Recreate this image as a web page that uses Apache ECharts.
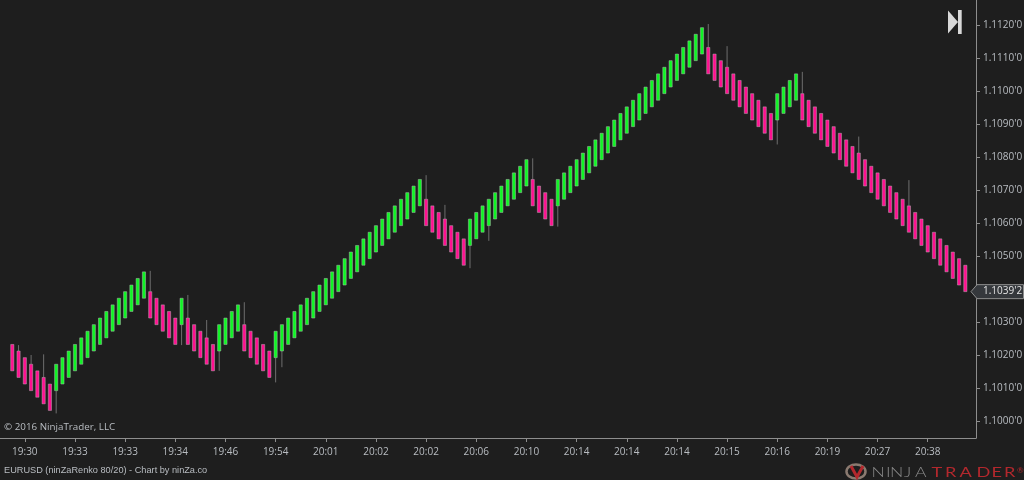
<!DOCTYPE html>
<html><head><meta charset="utf-8">
<style>html,body{margin:0;padding:0;background:#1e1e1e}#c{width:1024px;height:480px}</style>
<script src="https://cdn.jsdelivr.net/npm/echarts@6/dist/echarts.min.js"></script>
</head><body><div id="c"></div>
<script>
const opens = [
1.10232,1.10212,1.10192,1.10172,1.10152,1.10132,1.10112,
1.10092,1.10112,1.10132,1.10152,1.10172,1.10192,1.10212,1.10232,1.10252,1.10272,1.10292,1.10312,1.10332,1.10352,1.10372,
1.10392,1.10372,1.10352,1.10332,1.10312,
1.10292,
1.10312,1.10292,1.10272,1.10252,1.10232,
1.10212,1.10232,1.10252,1.10272,
1.10292,1.10272,1.10252,1.10232,1.10212,
1.10192,1.10212,1.10232,1.10252,1.10272,1.10292,1.10312,1.10332,1.10352,1.10372,1.10392,1.10412,1.10432,1.10452,1.10472,1.10492,1.10512,1.10532,1.10552,1.10572,1.10592,1.10612,1.10632,1.10652,
1.10672,1.10652,1.10632,1.10612,1.10592,1.10572,1.10552,
1.10532,1.10552,1.10572,1.10592,1.10612,1.10632,1.10652,1.10672,1.10692,1.10712,
1.10732,1.10712,1.10692,1.10672,
1.10652,1.10672,1.10692,1.10712,1.10732,1.10752,1.10772,1.10792,1.10812,1.10832,1.10852,1.10872,1.10892,1.10912,1.10932,1.10952,1.10972,1.10992,1.11012,1.11032,1.11052,1.11072,1.11092,1.11112,
1.11132,1.11112,1.11092,1.11072,1.11052,1.11032,1.11012,1.10992,1.10972,1.10952,1.10932,
1.10912,1.10932,1.10952,1.10972,
1.10992,1.10972,1.10952,1.10932,1.10912,1.10892,1.10872,1.10852,1.10832,1.10812,1.10792,1.10772,1.10752,1.10732,1.10712,1.10692,1.10672,1.10652,1.10632,1.10612,1.10592,1.10572,1.10552,1.10532,1.10512,1.10492,1.10472
];
const closes = [
1.10152,1.10132,1.10112,1.10092,1.10072,1.10052,1.10032,
1.10172,1.10192,1.10212,1.10232,1.10252,1.10272,1.10292,1.10312,1.10332,1.10352,1.10372,1.10392,1.10412,1.10432,1.10452,
1.10312,1.10292,1.10272,1.10252,1.10232,
1.10372,
1.10232,1.10212,1.10192,1.10172,1.10152,
1.10292,1.10312,1.10332,1.10352,
1.10212,1.10192,1.10172,1.10152,1.10132,
1.10272,1.10292,1.10312,1.10332,1.10352,1.10372,1.10392,1.10412,1.10432,1.10452,1.10472,1.10492,1.10512,1.10532,1.10552,1.10572,1.10592,1.10612,1.10632,1.10652,1.10672,1.10692,1.10712,1.10732,
1.10592,1.10572,1.10552,1.10532,1.10512,1.10492,1.10472,
1.10612,1.10632,1.10652,1.10672,1.10692,1.10712,1.10732,1.10752,1.10772,1.10792,
1.10652,1.10632,1.10612,1.10592,
1.10732,1.10752,1.10772,1.10792,1.10812,1.10832,1.10852,1.10872,1.10892,1.10912,1.10932,1.10952,1.10972,1.10992,1.11012,1.11032,1.11052,1.11072,1.11092,1.11112,1.11132,1.11152,1.11172,1.11192,
1.11052,1.11032,1.11012,1.10992,1.10972,1.10952,1.10932,1.10912,1.10892,1.10872,1.10852,
1.10992,1.11012,1.11032,1.11052,
1.10912,1.10892,1.10872,1.10852,1.10832,1.10812,1.10792,1.10772,1.10752,1.10732,1.10712,1.10692,1.10672,1.10652,1.10632,1.10612,1.10592,1.10572,1.10552,1.10532,1.10512,1.10492,1.10472,1.10452,1.10432,1.10412,1.10392
];
const upperWicks = [[1,1.10230],[3,1.10200],[5,1.10202],[22,1.10455],[28,1.10382],[31,1.10306],[37,1.10360],[66,1.10745],[69,1.10655],[83,1.10796],[111,1.11203],[114,1.11136],[126,1.11058],[135,1.10862],[143,1.10730]];
const lowerWicks = [[7,1.10023],[27,1.10230],[33,1.10152],[42,1.10117],[43,1.10163],[73,1.10463],[76,1.10546],[87,1.10589],[122,1.10838]];
const timeTicks = [2,10,18,26,34,42,50,58,66,74,82,90,98,106,114,122,130,138,146];
const timeLabels = ['19:30','19:33','19:33','19:34','19:46','19:54','20:01','20:02','20:02','20:06','20:10','20:14','20:14','20:14','20:15','20:16','20:19','20:27','20:38'];
const priceTicks = [1.100,1.101,1.102,1.103,1.105,1.106,1.107,1.108,1.109,1.110,1.111,1.112];
const priceLabels = ["1.1000'0","1.1010'0","1.1020'0","1.1030'0","1.1050'0","1.1060'0","1.1070'0","1.1080'0","1.1090'0","1.1100'0","1.1110'0","1.1120'0"];
const lastPrice = 1.10392;
const lastPriceLabel = "1.1039'2";

const FONT = '"Open Sans",sans-serif';
const BG = '#1e1e1e', AXIS = '#8e8e8e', TXT = '#b9bdc2';
const UP = '#0ff524', DOWN = '#ff1090', EDGE = 'rgba(190,190,190,0.75)', WICK = '#6e6e6e';
const hi = {}, lo = {};
upperWicks.forEach(w => hi[w[0]] = w[1]);
lowerWicks.forEach(w => lo[w[0]] = w[1]);
const candles = opens.map((o, i) => {
  const c = closes[i];
  return [i, o, c, lo[i] !== undefined ? lo[i] : Math.min(o, c), hi[i] !== undefined ? hi[i] : Math.max(o, c)];
});

const logoLetters = 'NINJA'.split('').map((ch, i) => ({
  type: 'text', x: [871.5, 886, 890, 904, 915][i], y: 466.5, scaleX: 1.35, silent: true,
  style: { text: ch, fill: '#8a8a8a', font: '300 13px Lato,sans-serif' }
})).concat('TRADER'.split('').map((ch, i) => ({
  type: 'text', x: [931.5, 945, 959.5, 976.5, 991.5, 1004][i], y: 466.5, scaleX: 1.4, silent: true,
  style: { text: ch, fill: '#b3282d', font: '400 13px Lato,sans-serif' }
}))).concat([{ type: 'text', x: 1017, y: 466, silent: true, style: { text: '®', fill: '#b3282d', font: '8px Lato,sans-serif' } }]);

const chart = echarts.init(document.getElementById('c'));
chart.setOption({
  backgroundColor: BG,
  animation: false,
  grid: { left: 0, right: 48, top: 0, bottom: 42, containLabel: false, outerBoundsMode: 'none' },
  xAxis: {
    type: 'value', min: -1.96, max: 153.7, splitLine: { show: false },
    axisLine: { show: true, lineStyle: { color: AXIS, width: 1 } },
    axisTick: { show: true, length: 4, lineStyle: { color: AXIS }, customValues: timeTicks },
    axisLabel: { color: TXT, fontFamily: FONT, fontSize: 10, margin: 9, showMinLabel: true, showMaxLabel: true,
      customValues: timeTicks,
      formatter: v => timeLabels[timeTicks.indexOf(v)] }
  },
  yAxis: {
    type: 'value', position: 'right', min: 1.099485, max: 1.112758, scale: true, splitLine: { show: false },
    axisLine: { show: true, onZero: false, lineStyle: { color: AXIS, width: 1 } },
    axisTick: { show: true, length: 4, lineStyle: { color: AXIS }, customValues: priceTicks },
    axisLabel: { color: TXT, fontFamily: FONT, fontSize: 10, margin: 7,
      customValues: priceTicks,
      formatter: v => priceLabels[priceTicks.indexOf(v)] }
  },
  series: [
    { type: 'custom', silent: true, clip: false,
      encode: { x: 0, y: [1, 2, 3, 4] },
      data: candles,
      renderItem: (params, api) => {
        const i = api.value(0), o = api.value(1), c = api.value(2);
        const x = api.coord([i, o])[0];
        const yo = api.coord([i, o])[1], yc = api.coord([i, c])[1];
        const yl = api.coord([i, api.value(3)])[1], yh = api.coord([i, api.value(4)])[1];
        const top = Math.min(yo, yc), bottom = Math.max(yo, yc);
        const wick = (a, b) => ({ type: 'line', shape: { x1: x, y1: a, x2: x, y2: b }, style: { stroke: WICK, lineWidth: 1 } });
        return { type: 'group', children: [
          wick(yh, top), wick(bottom, yl),
          { type: 'rect', shape: { x: x - 1.6, y: top, width: 3.2, height: bottom - top },
            style: { fill: c > o ? UP : DOWN, stroke: EDGE, lineWidth: 0.6 } }
        ] };
      } },
    { type: 'custom', silent: true, clip: false, z: 10,
      data: [[152, lastPrice]], encode: { x: 0, y: 1 },
      renderItem: (params, api) => {
        const y = api.coord([152, lastPrice])[1];
        return { type: 'group', children: [
          { type: 'polygon', shape: { points: [[971, y], [977, y - 7], [1023.5, y - 7], [1023.5, y + 7], [977, y + 7]] },
            style: { fill: '#35383c', stroke: '#8e8e8e', lineWidth: 1 } },
          { type: 'text', x: 983, y: y, style: { text: lastPriceLabel, fill: '#e4e4e4', font: "10px 'Open Sans',sans-serif", verticalAlign: 'middle', textVerticalAlign: 'middle' } }
        ] };
      } }
  ],
  graphic: [
    { type: 'text', left: 4, top: 422, silent: true, style: { text: '© 2016 NinjaTrader, LLC', fill: '#b9bdc2', font: '9.8px "Open Sans",sans-serif' } },
    { type: 'text', left: 4, top: 466, silent: true, style: { text: 'EURUSD (ninZaRenko 80/20) - Chart by ninZa.co', fill: '#b9bdc2', font: '9.2px "Liberation Sans",sans-serif' } },
    { type: 'polygon', silent: true, shape: { points: [[948, 10.5], [958, 22], [948, 33.5]] }, style: { fill: '#d8d8d8' } },
    { type: 'rect', silent: true, shape: { x: 958, y: 10, width: 3.7, height: 24 }, style: { fill: '#d8d8d8' } },
    { type: 'ellipse', silent: true, shape: { cx: 856, cy: 471.5, rx: 9.5, ry: 7 }, style: { fill: 'none', stroke: '#8a7a70', lineWidth: 2.5 } },
    { type: 'polyline', silent: true, shape: { points: [[851, 466], [857, 477], [863, 466]] }, style: { fill: 'none', stroke: '#b3282d', lineWidth: 3 } }
  ].concat(logoLetters)
});
</script></body></html>
